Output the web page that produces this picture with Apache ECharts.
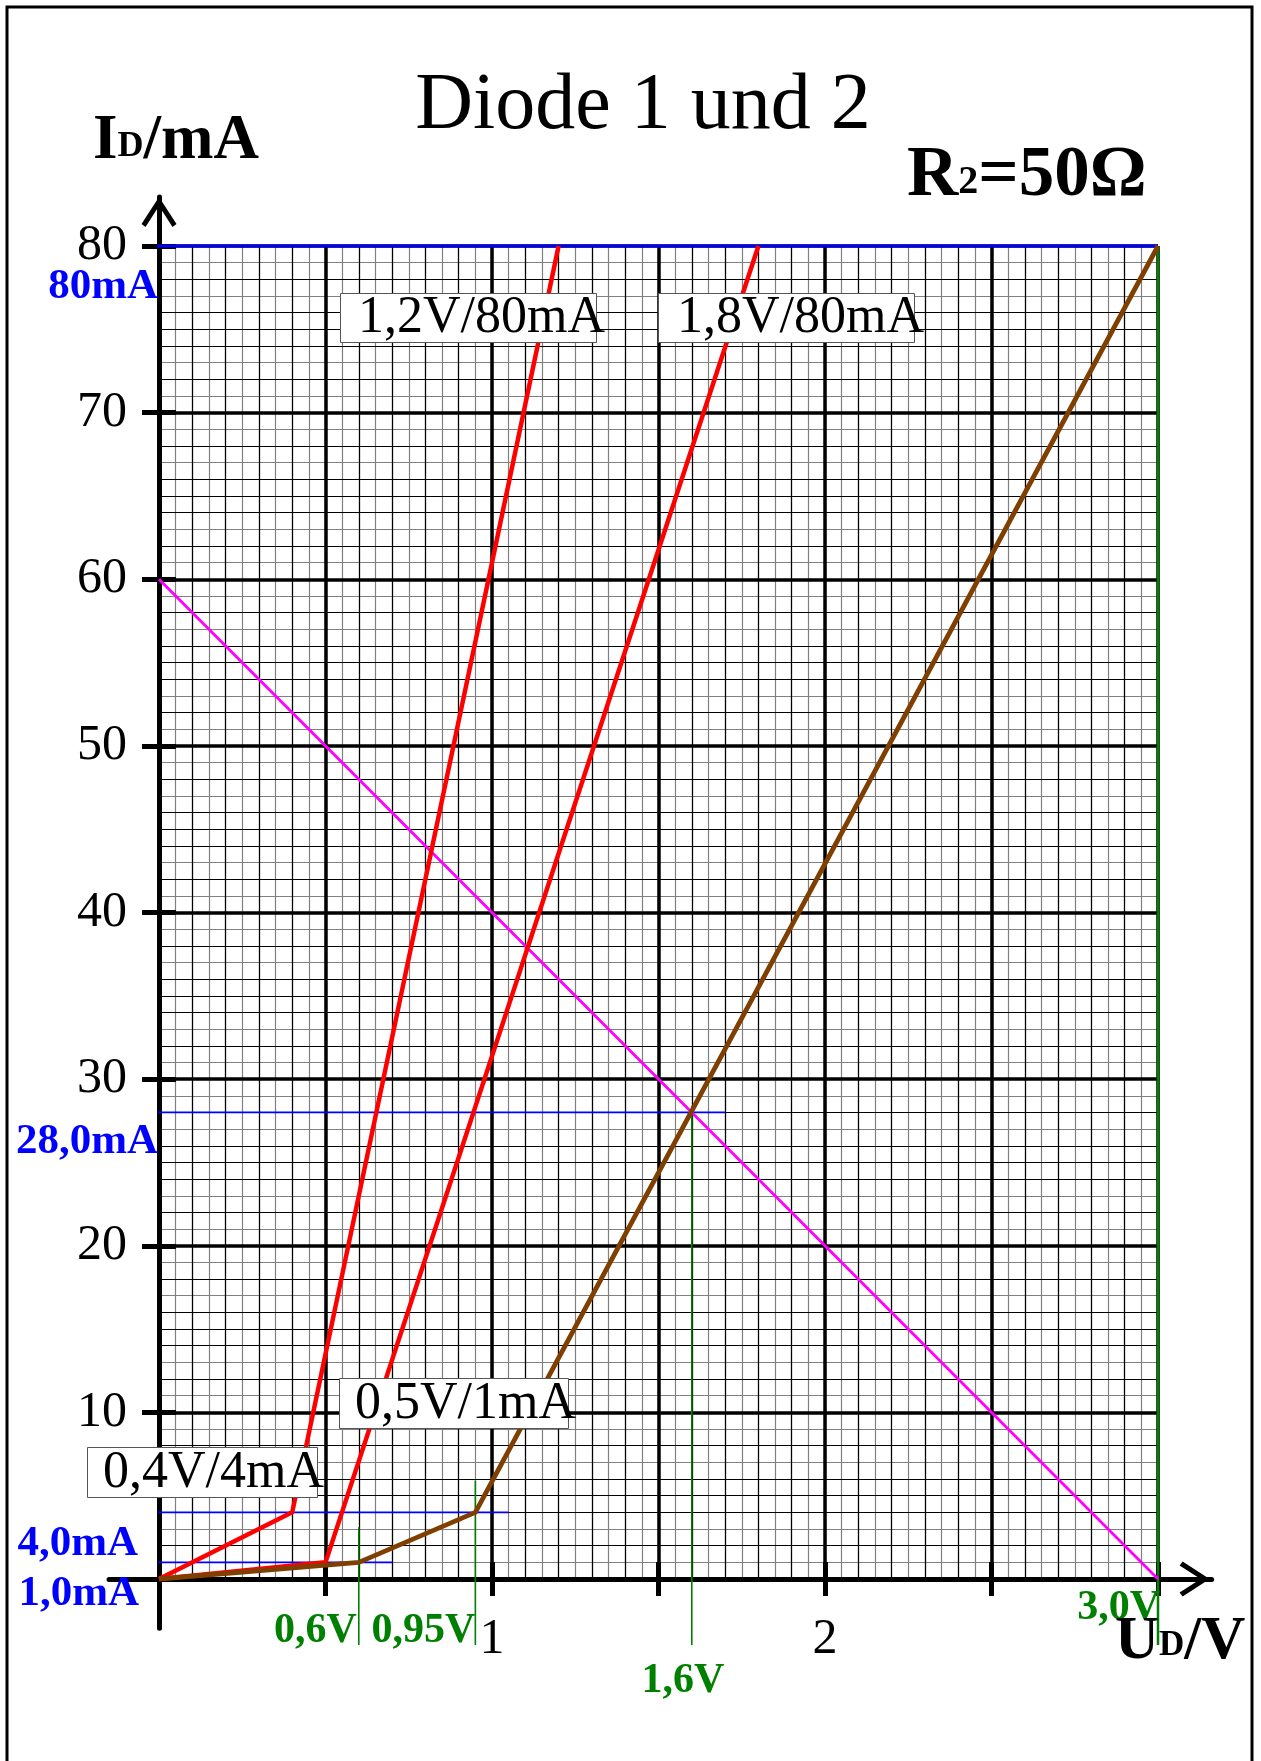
<!DOCTYPE html>
<html>
<head>
<meta charset="utf-8">
<script src="https://cdn.jsdelivr.net/npm/echarts@6/dist/echarts.min.js"></script>
<style>
  html, body { margin: 0; padding: 0; background: #ffffff; }
  #chart { width: 1261px; height: 1761px; }
</style>
</head>
<body>
<div id="chart"></div>
<script>
// Characteristic curves, U_D in V and I_D in mA
const diode1 = [[0, 0], [0.4, 4], [1.2, 80]];
const diode2 = [[0, 0], [0.5, 1], [1.8, 80]];
const diodePair = [[0, 0], [0.6, 1], [0.95, 4], [3.0, 80]];
// Load line of R2 = 50 Ω fed with 3.0 V
const loadLine = [[0, 60], [3.0, 0]];

// Currents (mA) and their captions
const currentReadings = [80, 28, 4, 1];
const currentLabels = ['80mA', '28,0mA', '4,0mA', '1,0mA'];
// Voltages (V) and their captions
const voltageReadings = [0.6, 0.95, 1.6, 3.0];
const voltageLabels = ['0,6V', '0,95V', '1,6V', '3,0V'];
// Boxed notes at the corner points of the diode curves
const pointNotes = ['1,2V/80mA', '1,8V/80mA', '0,5V/1mA', '0,4V/4mA'];
// Axis tick captions
const xTickLabels = ['1', '2'];
const yTickLabels = ['10', '20', '30', '40', '50', '60', '70', '80'];

// ---- layout ----
const X_MAX = 3, Y_MAX = 80;
const PLOT = { left: 159, top: 246, width: 999, height: 1333 };
const UX = PLOT.width / X_MAX;   // px per volt
const UY = PLOT.height / Y_MAX;  // px per mA
// axis lines run a little past the squared paper
const AX = { xMin: -0.15, xMax: 3.161, yMin: -2.95, yMax: 82.94 };
// horizontal extent (V) of the current guide lines
const currentSpans = [[-0.2, 3.0], [-0.2, 1.7], [-0.2, 1.05], [-0.2, 0.7]];
// vertical extent (mA) of the voltage guide lines
const voltageSpans = [[-3.96, 3.1], [-3.96, 5.9], [-3.96, 28.4], [-3.96, 80]];

const SERIF = '"Liberation Serif", "Times New Roman", serif';
const BLUE = '#0000ff', GREEN = '#008000';

const chevron = 'path://M17.5 0 L35 27 L31 30 L17.5 9 L4 30 L0 27 Z';

function paperAxis(dim, interval, color, width, z) {
  return {
    type: 'value', gridIndex: 0, min: 0, max: dim === 'x' ? X_MAX : Y_MAX,
    interval: interval, position: dim === 'x' ? 'bottom' : 'left', z: z,
    axisLine: { show: false }, axisTick: { show: false }, axisLabel: { show: false },
    splitLine: { show: !!color, lineStyle: { color: color || '#000', width: width } }
  };
}

const xAxes = [
  paperAxis('x', 0.05, '#808080', 1.2, 0),
  paperAxis('x', 0.1, '#000000', 1.2, 1),
  Object.assign(paperAxis('x', 0.5, '#000000', 3.5, 2), {
    axisTick: { show: true, inside: false, length: 17, lineStyle: { color: '#000', width: 5 } },
    axisLabel: {
      show: true, margin: 36, color: '#000', fontFamily: SERIF, fontSize: 50,
      formatter: v => (xTickLabels.indexOf(String(v)) >= 0 ? String(v) : '')
    }
  }),
  Object.assign(paperAxis('x', 0.5, null, 0, 3), {
    axisTick: { show: true, inside: true, length: 17, lineStyle: { color: '#000', width: 5 } }
  }),
  {
    type: 'value', gridIndex: 1, min: AX.xMin, max: AX.xMax, position: 'bottom',
    axisLine: { show: true, onZero: true, lineStyle: { color: '#000', width: 5 },
      symbol: ['none', chevron], symbolSize: [35, 34], symbolOffset: [0, -17] },
    axisTick: { show: false }, axisLabel: { show: false }, splitLine: { show: false }
  }
];

const yAxes = [
  paperAxis('y', 1, '#808080', 1.2, 0),
  paperAxis('y', 2, '#000000', 1.2, 1),
  paperAxis('y', 5, '#000000', 1.2, 1),
  Object.assign(paperAxis('y', 10, '#000000', 3.5, 2), {
    axisTick: { show: true, inside: false, length: 17, lineStyle: { color: '#000', width: 5 } },
    axisLabel: {
      show: true, margin: 32, color: '#000', fontFamily: SERIF, fontSize: 50,
      formatter: v => (yTickLabels.indexOf(String(v)) >= 0 ? String(v) : '')
    }
  }),
  Object.assign(paperAxis('y', 10, null, 0, 3), {
    axisTick: { show: true, inside: true, length: 17, lineStyle: { color: '#000', width: 5 } }
  }),
  {
    type: 'value', gridIndex: 1, min: AX.yMin, max: AX.yMax, position: 'left',
    axisLine: { show: true, onZero: true, lineStyle: { color: '#000', width: 5 },
      symbol: ['none', chevron], symbolSize: [35, 30], symbolOffset: [0, -15] },
    axisTick: { show: false }, axisLabel: { show: false }, splitLine: { show: false }
  }
];

function curve(data, color, width, z) {
  return {
    type: 'line', xAxisIndex: 2, yAxisIndex: 3, data: data, clip: false,
    symbol: 'none', z: z, animation: false, silent: true,
    lineStyle: { color: color, width: width, cap: 'butt', join: 'round' }
  };
}

const series = [];
currentReadings.forEach((i, k) => {
  const span = currentSpans[k];
  series.push(curve([[span[0], i], [span[1], i]], BLUE, k === 0 ? 3 : 1.7, 4));
});
voltageReadings.forEach((v, k) => {
  const span = voltageSpans[k];
  series.push(curve([[v, span[0]], [v, span[1]]], GREEN, k === 3 ? 2.5 : 1.6, 4));
});
series.push(curve(loadLine, '#ff00ff', 2.8, 5));
series.push(curve(diode1, '#ff0000', 4.5, 6));
series.push(curve(diode2, '#ff0000', 4.5, 6));
series.push(curve(diodePair, '#7f3f00', 4.8, 7));

const chart = echarts.init(document.getElementById('chart'), null, { renderer: 'canvas' });

const grids = [
  { left: PLOT.left, top: PLOT.top, width: PLOT.width, height: PLOT.height,
    containLabel: false, outerBoundsMode: 'none', show: false },
  { left: PLOT.left + AX.xMin * UX, top: PLOT.top - (AX.yMax - Y_MAX) * UY,
    width: (AX.xMax - AX.xMin) * UX, height: (AX.yMax - AX.yMin) * UY,
    containLabel: false, outerBoundsMode: 'none', show: false }
];

chart.setOption({
  backgroundColor: '#ffffff',
  animation: false,
  grid: grids,
  xAxis: xAxes,
  yAxis: yAxes,
  series: series
});

// ---- captions ----
const toPx = (v, i) => chart.convertToPixel({ xAxisIndex: 2, yAxisIndex: 3 }, [v, i]);

function txt(text, x, y, size, opts) {
  opts = opts || {};
  return {
    type: 'text', x: x, y: y, z: opts.z || 20,
    style: {
      text: text, fill: opts.color || '#000',
      font: (opts.bold ? 'bold ' : '') + size + 'px ' + SERIF,
      align: opts.align || 'left', verticalAlign: 'middle'
    }
  };
}

function subText(main, sub, rest, x, y, size, subSize) {
  const base = { fontFamily: SERIF, fontWeight: 'bold', fill: '#000', verticalAlign: 'bottom' };
  return {
    type: 'text', x: x, y: y, z: 20,
    style: {
      text: '{a|' + main + '}{b|' + sub + '}{a|' + rest + '}',
      verticalAlign: 'middle', align: 'left',
      rich: {
        a: Object.assign({ fontSize: size, lineHeight: size }, base),
        b: Object.assign({ fontSize: subSize, lineHeight: subSize,
          padding: [0, 0, Math.round((size - subSize) * 0.33), 0] }, base)
      }
    }
  };
}

const graphics = [];
// page frame
graphics.push({ type: 'rect', z: 30, shape: { x: 7, y: 7, width: 1245, height: 1800 },
  style: { fill: 'none', stroke: '#000', lineWidth: 3 } });

// headings
graphics.push(txt('Diode 1 und 2', 643, 107, 80, { align: 'center' }));
graphics.push(subText('I', 'D', '/mA', 93, 142, 63, 36));
graphics.push(subText('R', '2', '=50Ω', 907, 177, 71, 40));

// current captions, placed under their guide lines
const currentOffsets = [[-1, 41], [-1, 29], [-21, 32], [-20, 32]];
currentReadings.forEach((i, k) => {
  const p = toPx(0, i);
  graphics.push(txt(currentLabels[k], p[0] + currentOffsets[k][0], p[1] + currentOffsets[k][1], 43,
    { bold: true, color: BLUE, align: 'right' }));
});

// voltage captions, below the axis
const voltageOffsets = [[-2, 52, 'right'], [0, 52, 'right'], [-9, 102, 'center'], [2, 29, 'right']];
voltageReadings.forEach((v, k) => {
  const p = toPx(v, 0);
  const o = voltageOffsets[k];
  graphics.push(txt(voltageLabels[k], p[0] + o[0], p[1] + o[1], 42,
    { bold: true, color: GREEN, align: o[2], z: 18 }));
});

// axis caption for U_D
graphics.push(subText('U', 'D', '/V', 1115, 1642, 61, 35));

// boxed notes
const noteBoxes = [
  { x: 340, y: 293, w: 256, h: 49, tx: 358 },
  { x: 658, y: 293, w: 256, h: 49, tx: 677 },
  { x: 339, y: 1378, w: 229, h: 50, tx: 355 },
  { x: 87, y: 1447, w: 230, h: 50, tx: 103 }
];
pointNotes.forEach((t, k) => {
  const b = noteBoxes[k];
  graphics.push({ type: 'rect', z: 21, shape: { x: b.x + 0.5, y: b.y + 0.5, width: b.w, height: b.h },
    style: { fill: '#ffffff', stroke: '#555555', lineWidth: 1 } });
  graphics.push(Object.assign(txt(t, b.tx, b.y + b.h / 2 + 1, 52), { z: 22 }));
});

chart.setOption({ graphic: graphics });
</script>
</body>
</html>
